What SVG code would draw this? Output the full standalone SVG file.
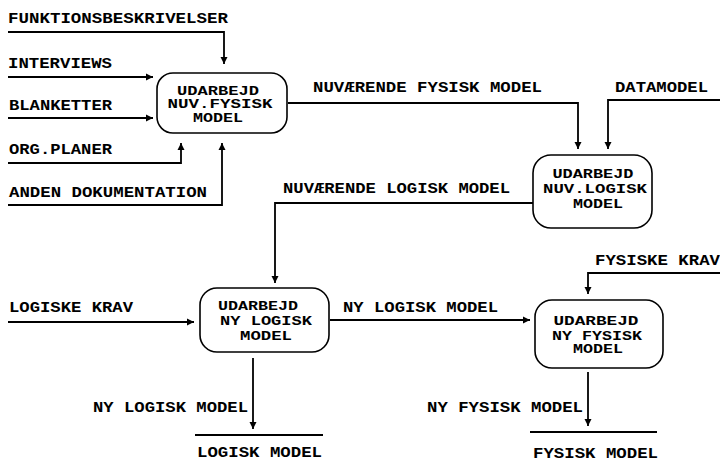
<svg xmlns="http://www.w3.org/2000/svg" width="720" height="463" viewBox="0 0 720 463">
<style>
text{font-family:"Liberation Mono","DejaVu Sans Mono",monospace;font-weight:bold;font-size:15px;fill:#000}
.n text{text-anchor:middle;font-size:12.5px}
.n rect{fill:#fff;stroke:#000;stroke-width:1.6}
.c path{fill:none;stroke:#000;stroke-width:1.8}
.a{marker-end:url(#ah)}
</style>
<defs>
<marker id="ah" viewBox="-7 -4 8 8" markerWidth="8" markerHeight="8" refX="0" refY="0" orient="auto" markerUnits="userSpaceOnUse">
<path d="M-7,-3.5 L0,0 L-7,3.5 Z" fill="#000"/>
</marker>
</defs>
<rect width="720" height="463" fill="#fff"/>
<g id="connectors" class="c">
<path class="a" d="M8,32 H224 V64"/>
<path class="a" d="M8,77 H153"/>
<path class="a" d="M8,118 H153"/>
<path class="a" d="M8,163 H181 V143"/>
<path class="a" d="M8,205 H222 V143"/>
<path class="a" d="M288,103 H578 V149"/>
<path class="a" d="M720,100 H608 V149"/>
<path class="a" d="M533,203 H275 V283"/>
<path class="a" d="M8,322 H194"/>
<path class="a" d="M330,320 H530"/>
<path class="a" d="M720,273 H588 V294"/>
<path class="a" d="M253,358 V429"/>
<path d="M195,435 H323"/>
<path class="a" d="M588,372 V426"/>
<path d="M530,432 H657"/>
</g>
<g id="labels">
<text x="8" y="23" textLength="220" lengthAdjust="spacingAndGlyphs">FUNKTIONSBESKRIVELSER</text>
<text x="8" y="68" textLength="104" lengthAdjust="spacingAndGlyphs">INTERVIEWS</text>
<text x="9" y="110" textLength="103" lengthAdjust="spacingAndGlyphs">BLANKETTER</text>
<text x="9" y="154" textLength="103" lengthAdjust="spacingAndGlyphs">ORG.PLANER</text>
<text x="9" y="197" textLength="198" lengthAdjust="spacingAndGlyphs">ANDEN DOKUMENTATION</text>
<text x="313" y="92" textLength="229" lengthAdjust="spacingAndGlyphs">NUVÆRENDE FYSISK MODEL</text>
<text x="615" y="92" textLength="93" lengthAdjust="spacingAndGlyphs">DATAMODEL</text>
<text x="283" y="193" textLength="227" lengthAdjust="spacingAndGlyphs">NUVÆRENDE LOGISK MODEL</text>
<text x="9" y="312" textLength="124" lengthAdjust="spacingAndGlyphs">LOGISKE KRAV</text>
<text x="343" y="312" textLength="155" lengthAdjust="spacingAndGlyphs">NY LOGISK MODEL</text>
<text x="595" y="265" textLength="125" lengthAdjust="spacingAndGlyphs">FYSISKE KRAV</text>
<text x="93" y="412" textLength="155" lengthAdjust="spacingAndGlyphs">NY LOGISK MODEL</text>
<text x="427" y="412" textLength="156" lengthAdjust="spacingAndGlyphs">NY FYSISK MODEL</text>
<text x="197" y="457" textLength="125" lengthAdjust="spacingAndGlyphs">LOGISK MODEL</text>
<text x="533" y="458" textLength="125" lengthAdjust="spacingAndGlyphs">FYSISK MODEL</text>
</g>
<g id="node1" class="n">
<rect x="157" y="73" width="130" height="60" rx="16" ry="16"/>
<text x="218" y="95" textLength="82" lengthAdjust="spacingAndGlyphs">UDARBEJD</text>
<text x="220" y="108" textLength="105" lengthAdjust="spacingAndGlyphs">NUV.FYSISK</text>
<text x="218" y="122" textLength="50" lengthAdjust="spacingAndGlyphs">MODEL</text>
</g>
<g id="node2" class="n">
<rect x="533" y="155" width="119" height="73" rx="18" ry="18"/>
<text x="593" y="178" textLength="81" lengthAdjust="spacingAndGlyphs">UDARBEJD</text>
<text x="595" y="193" textLength="104" lengthAdjust="spacingAndGlyphs">NUV.LOGISK</text>
<text x="598" y="208" textLength="50" lengthAdjust="spacingAndGlyphs">MODEL</text>
</g>
<g id="node3" class="n">
<rect x="200" y="288" width="129" height="64" rx="17" ry="17"/>
<text x="258" y="310" textLength="80" lengthAdjust="spacingAndGlyphs">UDARBEJD</text>
<text x="266" y="325" textLength="92" lengthAdjust="spacingAndGlyphs">NY LOGISK</text>
<text x="266" y="340" textLength="52" lengthAdjust="spacingAndGlyphs">MODEL</text>
</g>
<g id="node4" class="n">
<rect x="535" y="300" width="128" height="68" rx="17" ry="17"/>
<text x="596" y="325" textLength="85" lengthAdjust="spacingAndGlyphs">UDARBEJD</text>
<text x="597" y="340" textLength="90" lengthAdjust="spacingAndGlyphs">NY FYSISK</text>
<text x="598" y="353" textLength="50" lengthAdjust="spacingAndGlyphs">MODEL</text>
</g>
</svg>
